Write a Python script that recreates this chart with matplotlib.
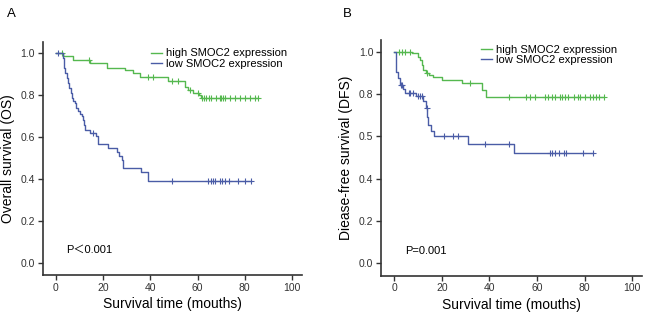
import numpy as np
import matplotlib
matplotlib.use('Agg')
import matplotlib.pyplot as plt

plt.rcParams['font.family'] = ['Liberation Sans', 'DejaVu Sans']

# Panel A - overall survival
a_high_t = [3.2, 7.4, 14.5, 21.5, 29.3, 32.7, 35.6, 47.5, 54.6, 55.9, 58.0, 60.5, 61.5]
a_high_s = [0.988, 0.968, 0.952, 0.931, 0.920, 0.905, 0.888, 0.869, 0.840, 0.824, 0.810, 0.800, 0.787]
a_high_cens = [2.5, 14.2, 39.2, 41.3, 49.0, 51.7, 57.0, 60.0, 61.7, 62.7, 63.8, 64.9, 65.9, 68.0, 69.4,
               70.1, 70.8, 71.8, 73.7, 75.8, 77.9, 80.3, 82.4, 84.5, 85.6]
a_low_t = [3.0, 3.3, 3.6, 4.0, 4.6, 5.3, 5.8, 6.3, 7.0, 7.5, 8.0, 8.6, 9.6, 10.3, 11.0, 11.4, 11.8, 12.2,
           14.5, 17.0, 18.0, 22.2, 26.0, 26.9, 27.9, 28.6, 36.3, 39.1]
a_low_s = [0.976, 0.952, 0.928, 0.904, 0.880, 0.856, 0.832, 0.808, 0.784, 0.770, 0.760, 0.736, 0.722, 0.712,
           0.698, 0.680, 0.656, 0.633, 0.618, 0.605, 0.565, 0.546, 0.530, 0.510, 0.490, 0.453, 0.434, 0.390]
a_low_cens = [1.0, 15.6, 49.0, 64.5, 65.5, 66.6, 67.6, 69.4, 70.4, 71.8, 73.2, 77.2, 80.0, 82.8]

# Panel B - disease-free survival
b_high_t = [7.4, 10.2, 10.9, 11.6, 12.3, 13.2, 14.5, 16.5, 20.1, 28.6, 37.0, 38.5]
b_high_s = [0.992, 0.976, 0.960, 0.937, 0.913, 0.898, 0.890, 0.882, 0.866, 0.850, 0.820, 0.785]
b_high_cens = [2.1, 3.1, 4.5, 6.7, 13.7, 31.8, 48.1, 55.5, 56.9, 59.0, 63.2, 64.4, 66.1, 67.5, 69.6, 70.6,
               71.7, 73.1, 75.7, 77.1, 78.1, 80.2, 82.3, 83.5, 84.7, 85.9, 88.0]
b_low_t = [0.7, 1.7, 2.4, 3.6, 4.6, 9.0, 12.0, 13.4, 13.9, 14.3, 15.3, 16.8, 31.0, 50.2]
b_low_s = [0.905, 0.875, 0.842, 0.826, 0.803, 0.790, 0.767, 0.735, 0.690, 0.653, 0.625, 0.602, 0.566, 0.522]
b_low_cens = [3.0, 3.3, 6.1, 6.8, 7.9, 10.1, 10.9, 11.5, 13.8, 20.8, 24.8, 26.7, 38.1, 48.1, 65.3, 66.3,
              67.5, 69.2, 71.3, 72.1, 79.1, 83.3]

y_ticks = [0.0, 0.2, 0.4, 0.6, 0.8, 1.0]
y_labels_a = ['0.0', '0.2', '0.4', '0.6', '0.8', '1.0']
y_labels_b = ['0.0', '0.2', '0.4', '0.5', '0.8', '1.0']
x_ticks = [0, 20, 40, 60, 80, 100]

GREEN = '#55b84f'
BLUE = '#4a5ca6'


def km_curve(ax, t, s, cens, color, label):
    t = np.array(t)
    s = np.array(s)
    end = max(max(cens), t.max())
    xs = np.concatenate([[0], t, [end]])
    ys = np.concatenate([[1.0], s, [s[-1]]])
    ax.step(xs, ys, where='post', color=color, lw=1.0, label=label)
    # survival at each censor time
    idx = np.searchsorted(t, cens, side='right')
    cs = np.where(idx == 0, 1.0, s[np.maximum(idx - 1, 0)])
    ax.plot(cens, cs, linestyle='none', marker='+', ms=5, mew=0.8, color=color)


def style(ax, ylabels, ylabel, ptext, leg_pos):
    ax.set_xlim(-5.5, 104)
    ax.set_ylim(-0.059, 1.055)
    ax.set_xticks(x_ticks)
    ax.set_yticks(y_ticks)
    ax.set_yticklabels(ylabels)
    for side in ['top', 'right']:
        ax.spines[side].set_visible(False)
    for side in ['left', 'bottom']:
        ax.spines[side].set_linewidth(1.2)
        ax.spines[side].set_color('#333333')
    ax.tick_params(direction='out', length=3.5, width=1, labelsize=7.5, colors='#333333', pad=2)
    ax.set_xlabel('Survival time (mouths)', fontsize=10, labelpad=3)
    ax.set_ylabel(ylabel, fontsize=10, labelpad=4)
    ax.text(4.6, 0.06, ptext, fontsize=8, va='center', ha='left',
            family=['Liberation Sans', 'Noto Sans CJK SC'])
    ax.legend(loc='upper left', bbox_to_anchor=leg_pos, frameon=False, fontsize=8,
              handlelength=1.0, handletextpad=0.4, labelspacing=0.05, borderaxespad=0)


fig = plt.figure(figsize=(6.47, 3.18), dpi=100)
ax1 = fig.add_axes([0.066, 0.135, 0.400, 0.734])
ax2 = fig.add_axes([0.589, 0.133, 0.403, 0.741])

km_curve(ax1, a_high_t, a_high_s, a_high_cens, GREEN, 'high SMOC2 expression')
km_curve(ax1, a_low_t, a_low_s, a_low_cens, BLUE, 'low SMOC2 expression')
style(ax1, y_labels_a, 'Overall survival (OS)', 'P＜0.001', (0.40, 0.99))

km_curve(ax2, b_high_t, b_high_s, b_high_cens, GREEN, 'high SMOC2 expression')
km_curve(ax2, b_low_t, b_low_s, b_low_cens, BLUE, 'low SMOC2 expression')
style(ax2, y_labels_b, 'Diease-free survival (DFS)', 'P=0.001', (0.365, 1.0))

fig.text(0.011, 0.955, 'A', fontsize=9.5, va='center')
fig.text(0.530, 0.955, 'B', fontsize=9.5, va='center')

fig.savefig('out.png', dpi=100)
